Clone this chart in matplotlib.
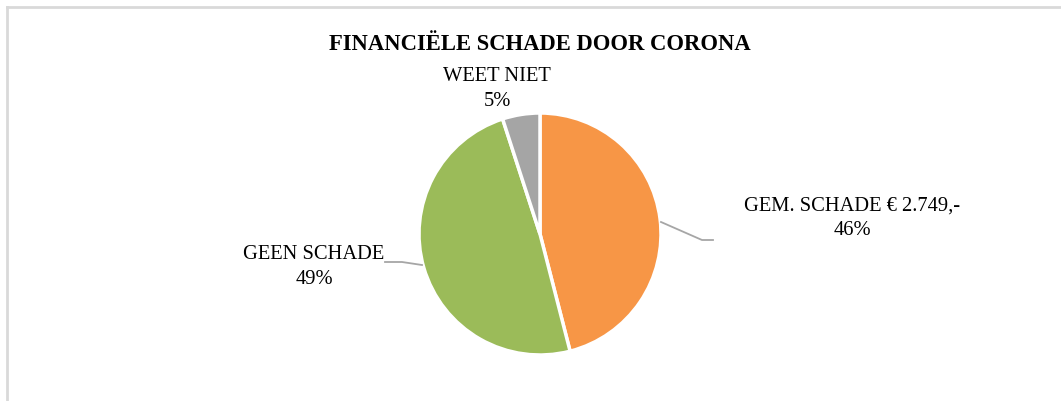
import matplotlib.pyplot as plt
from matplotlib.lines import Line2D

# data
labels = ['GEM. SCHADE € 2.749,-', 'GEEN SCHADE', 'WEET NIET']
values = [46, 49, 5]
colors = ['#F79646', '#9BBB59', '#A5A5A5']

W, H = 1061, 401
fig = plt.figure(figsize=(W / 100, H / 100), dpi=100)
plt.rcParams['font.family'] = ['Liberation Serif', 'DejaVu Serif']

# chart border (top and left visible)
fig.add_artist(Line2D([7 / W, 7 / W], [0, 1 - 7 / H], color='#D9D9D9', lw=2))
fig.add_artist(Line2D([7 / W, 1], [1 - 7 / H, 1 - 7 / H], color='#D9D9D9', lw=2))

# pie axes: center (540, 234) px, radius 121 px
cx, cy, r = 540, 234, 121
ax = fig.add_axes([(cx - r) / W, 1 - (cy + r) / H, 2 * r / W, 2 * r / H])

wedges, _ = ax.pie(values, colors=colors, startangle=90, counterclock=False,
                   radius=1, wedgeprops=dict(edgecolor='white', linewidth=2.5))
ax.set_xlim(-1, 1)
ax.set_ylim(-1, 1)
ax.axis('off')

def px(x, y):
    return ((x - cx) / r, (cy - y) / r)

# label texts with percentages
texts = ['%s\n%d%%' % (l, v) for l, v in zip(labels, values)]
label_pos = [px(852, 218), px(314, 267), px(497, 89)]
for t, (x, y) in zip(texts, label_pos):
    ax.text(x, y, t, ha='center', va='center', fontsize=14.8, linespacing=1.42,
            color='#000000', clip_on=False)

# leader lines
leaders = [
    [px(661, 222), px(702, 240), px(713, 240)],
    [px(422, 265), px(402, 262), px(385, 262)],
]
for pts in leaders:
    xs = [p[0] for p in pts]
    ys = [p[1] for p in pts]
    ax.plot(xs, ys, color='#A6A6A6', lw=1.3, clip_on=False)

fig.text(540 / W, 1 - 45 / H, 'FINANCIËLE SCHADE DOOR CORONA', ha='center', va='center',
         fontsize=16.3, fontweight='bold')

fig.savefig('out.png', dpi=100, facecolor='white')
